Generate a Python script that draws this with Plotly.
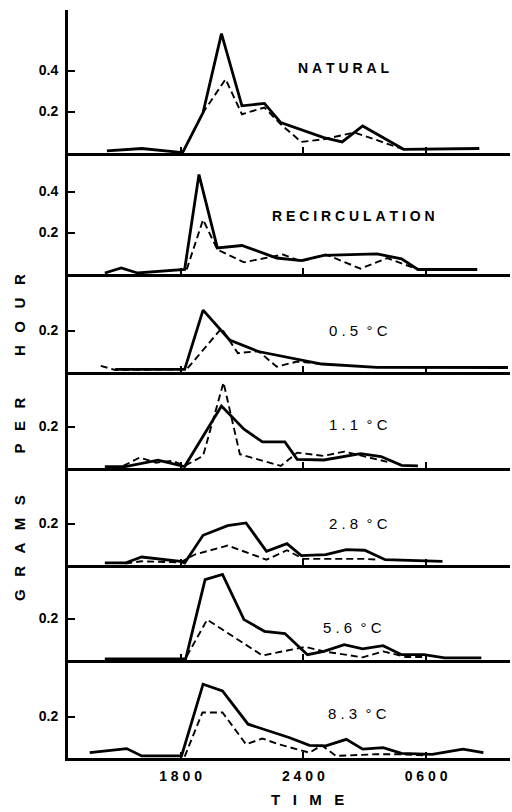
import plotly.graph_objects as go

# ---------------- data (time in hours; 24 = midnight, 30 = 0600) ----------------
panel_labels = ["NATURAL", "RECIRCULATION", "0.5 °C", "1.1 °C", "2.8 °C", "5.6 °C", "8.3 °C"]

nat_t_solid = [14.4, 16.1, 18.1, 19.1, 20.0, 21.0, 22.1, 22.9, 25.0, 25.9, 26.9, 28.9, 32.6]
nat_v_solid = [0.008, 0.02, 0.0, 0.195, 0.58, 0.228, 0.24, 0.146, 0.073, 0.052, 0.13, 0.016, 0.02]
nat_t_dash = [18.1, 19.1, 20.2, 21.0, 22.1, 22.9, 23.9, 25.0, 26.5, 28.9]
nat_v_dash = [0.0, 0.195, 0.358, 0.187, 0.22, 0.138, 0.052, 0.065, 0.098, 0.016]

rec_t_solid = [14.3, 15.1, 15.9, 17.8, 18.2, 18.9, 19.8, 21.0, 22.7, 23.9, 25.0, 27.6, 28.8, 29.6, 32.5]
rec_v_solid = [0.003, 0.028, 0.003, 0.016, 0.02, 0.483, 0.125, 0.137, 0.076, 0.063, 0.089, 0.096, 0.072, 0.02, 0.02]
rec_t_dash = [18.3, 19.1, 19.8, 21.1, 23.0, 23.9, 25.1, 26.8, 28.1, 29.6]
rec_v_dash = [0.02, 0.263, 0.117, 0.055, 0.093, 0.06, 0.093, 0.024, 0.076, 0.02]

c05_t_solid = [14.8, 18.2, 19.1, 20.4, 21.8, 24.9, 27.6, 34.0]
c05_v_solid = [0.011, 0.011, 0.30, 0.154, 0.098, 0.037, 0.021, 0.02]
c05_t_dash = [14.1, 14.8, 18.3, 20.0, 20.8, 21.8, 22.7, 23.7, 24.9]
c05_v_dash = [0.028, 0.008, 0.011, 0.211, 0.09, 0.10, 0.024, 0.049, 0.037]

c11_t_solid = [14.3, 15.3, 16.9, 17.8, 18.2, 20.0, 21.1, 22.0, 23.1, 23.7, 25.0, 26.8, 27.8, 28.8, 29.6]
c11_v_solid = [0.005, 0.005, 0.036, 0.016, 0.005, 0.30, 0.187, 0.125, 0.125, 0.04, 0.037, 0.068, 0.054, 0.011, 0.008]
c11_t_dash = [15.2, 16.0, 16.8, 17.6, 18.2, 19.1, 20.1, 20.9, 22.9, 23.7, 25.0, 26.0, 27.6, 28.1]
c11_v_dash = [0.008, 0.049, 0.024, 0.033, 0.008, 0.057, 0.415, 0.065, 0.008, 0.073, 0.057, 0.078, 0.04, 0.028]

c28_t_solid = [14.3, 15.3, 16.1, 18.0, 18.2, 19.1, 20.3, 21.2, 22.2, 23.2, 23.9, 25.1, 26.1, 27.0, 28.0, 30.8]
c28_v_solid = [0.008, 0.008, 0.037, 0.016, 0.008, 0.143, 0.19, 0.203, 0.065, 0.102, 0.044, 0.049, 0.073, 0.07, 0.024, 0.016]
c28_t_dash = [15.3, 16.1, 18.0, 18.7, 20.3, 22.2, 23.2, 24.0, 27.0, 27.6]
c28_v_dash = [0.005, 0.016, 0.011, 0.049, 0.093, 0.024, 0.07, 0.028, 0.028, 0.024]

c56_t_solid = [14.3, 18.0, 18.25, 19.2, 20.05, 21.1, 22.1, 23.1, 24.2, 25.0, 26.0, 26.9, 27.9, 28.8, 29.9, 30.9, 32.7]
c56_v_solid = [0.003, 0.003, 0.003, 0.39, 0.415, 0.195, 0.138, 0.127, 0.024, 0.04, 0.073, 0.052, 0.068, 0.024, 0.024, 0.008, 0.008]
c56_t_dash = [18.3, 19.3, 22.0, 24.1, 25.0, 26.9, 27.9, 29.0, 29.9]
c56_v_dash = [0.016, 0.195, 0.02, 0.062, 0.04, 0.011, 0.04, 0.013, 0.013]

c83_t_solid = [13.56, 15.37, 16.1, 18.05, 19.1, 20.05, 21.3, 23.3, 24.3, 25.1, 26.1, 26.9, 27.9, 28.8, 30.3, 31.8, 32.8]
c83_v_solid = [0.024, 0.044, 0.008, 0.008, 0.358, 0.325, 0.163, 0.098, 0.06, 0.057, 0.089, 0.041, 0.049, 0.021, 0.016, 0.041, 0.024]
c83_t_dash = [18.2, 19.07, 20.05, 21.2, 22.0, 22.8, 24.3, 24.9, 25.6, 27.5, 28.8, 30.0]
c83_v_dash = [0.005, 0.22, 0.22, 0.065, 0.093, 0.065, 0.024, 0.06, 0.008, 0.016, 0.016, 0.01]

x_tickvals = [18, 24, 30]
x_ticktext = ["1800", "2400", "0600"]
y_ticks_big = [0.2, 0.4]
y_ticks_small = [0.2]

series = [
    (nat_t_solid, nat_v_solid, nat_t_dash, nat_v_dash),
    (rec_t_solid, rec_v_solid, rec_t_dash, rec_v_dash),
    (c05_t_solid, c05_v_solid, c05_t_dash, c05_v_dash),
    (c11_t_solid, c11_v_solid, c11_t_dash, c11_v_dash),
    (c28_t_solid, c28_v_solid, c28_t_dash, c28_v_dash),
    (c56_t_solid, c56_v_solid, c56_t_dash, c56_v_dash),
    (c83_t_solid, c83_v_solid, c83_t_dash, c83_v_dash),
]

# ---------------- layout geometry ----------------
W, H = 512, 812
panel_px = [(10, 153), (153, 274), (274, 372), (372, 468), (468, 565), (565, 660), (660, 758)]
label_pos = [(343, 68), (353, 216), (358, 330), (358, 424), (358, 523), (352, 627), (357, 713)]
PX_PER_UNIT = 41 / 0.2
Y0 = -0.002
X_RANGE = [12.5, 34.1]
X_DOM = [68 / W, 510 / W]

FONT = "Liberation Sans, Arial, sans-serif"
NB = "\u00a0"

def spaced(s, gap=1, space=2):
    words = s.split(" ")
    return (NB * space).join((NB * gap).join(w) for w in words)

fig = go.Figure()
layout = dict(
    width=W, height=H,
    margin=dict(l=0, r=0, t=0, b=0),
    paper_bgcolor="white", plot_bgcolor="white",
    showlegend=False,
    font=dict(family=FONT, color="black", size=14),
)

annotations = []
for i, ((ts, vs, td, vd), (top, bot)) in enumerate(zip(series, panel_px)):
    n = i + 1
    xa = "x" if n == 1 else f"x{n}"
    ya = "y" if n == 1 else f"y{n}"
    fig.add_trace(go.Scatter(x=ts, y=vs, mode="lines", xaxis=xa, yaxis=ya,
                             line=dict(color="black", width=2.8), hoverinfo="skip"))
    fig.add_trace(go.Scatter(x=td, y=vd, mode="lines", xaxis=xa, yaxis=ya,
                             line=dict(color="black", width=1.9, dash="7px,4px"), hoverinfo="skip"))
    ytop = Y0 + (bot - top) / PX_PER_UNIT
    yt = y_ticks_big if n <= 2 else y_ticks_small
    layout["xaxis" if n == 1 else f"xaxis{n}"] = dict(
        domain=X_DOM, range=X_RANGE, anchor=ya,
        showline=True, linecolor="black", linewidth=3,
        showgrid=False, zeroline=False,
        ticks="inside", ticklen=6, tickwidth=2, tickcolor="black",
        tickvals=x_tickvals, ticktext=[spaced(t) for t in x_ticktext],
        showticklabels=(n == 7), tickfont=dict(size=14, family=FONT, weight="bold"),
        ticklabelstandoff=3,
        **({} if n == 1 else {"matches": "x"}),
    )
    layout["yaxis" if n == 1 else f"yaxis{n}"] = dict(
        domain=[1 - bot / H, 1 - top / H], range=[Y0, ytop], anchor=xa,
        showline=True, linecolor="black", linewidth=3,
        showgrid=False, zeroline=False,
        ticks="inside", ticklen=7, tickwidth=2, tickcolor="black",
        tickvals=yt, ticktext=[f"{v:.1f}" for v in yt],
        tickfont=dict(size=14, family=FONT, weight="bold"),
        ticklabelstandoff=4,
    )
    lx, ly = label_pos[i]
    annotations.append(dict(
        x=lx / W, y=1 - ly / H, xref="paper", yref="paper",
        text=spaced(panel_labels[i], gap=1, space=2 if n > 2 else 3),
        showarrow=False, xanchor="center", yanchor="middle",
        font=dict(size=14 if n <= 2 else 15, family=FONT,
                  weight="bold" if n <= 2 else 500),
    ))

def wide(s, gap=3, wgap=10):
    words = s.split(" ")
    return (NB * wgap).join((NB * gap).join(w) for w in words)

annotations.append(dict(
    x=20 / W, y=1 - 438 / H, xref="paper", yref="paper",
    text=wide("GRAMS PER HOUR"), textangle=-90, showarrow=False,
    xanchor="center", yanchor="middle",
    font=dict(size=15, family=FONT, weight="bold"),
))
annotations.append(dict(
    x=307 / W, y=1 - 799 / H, xref="paper", yref="paper",
    text=wide("TIME"), showarrow=False,
    xanchor="center", yanchor="middle",
    font=dict(size=15, family=FONT, weight="bold"),
))
layout["annotations"] = annotations
fig.update_layout(**layout)
fig.write_html("out.html")
